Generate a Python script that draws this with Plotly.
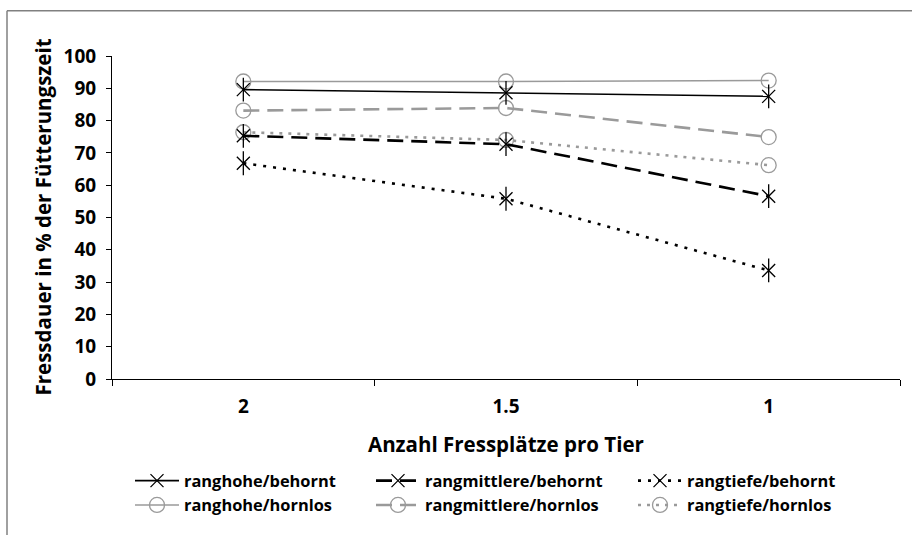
import plotly.graph_objects as go

# ---- data ----
categories = ["2", "1.5", "1"]
series_names = [
    "ranghohe/behornt", "rangmittlere/behornt", "rangtiefe/behornt",
    "ranghohe/hornlos", "rangmittlere/hornlos", "rangtiefe/hornlos",
]
ranghohe_behornt = [89.6, 88.6, 87.5]
rangmittlere_behornt = [75.3, 72.7, 56.6]
rangtiefe_behornt = [66.8, 55.8, 33.6]
ranghohe_hornlos = [92.1, 92.1, 92.4]
rangmittlere_hornlos = [83.1, 83.9, 74.9]
rangtiefe_hornlos = [76.4, 74.0, 66.2]
y_ticks = [0, 10, 20, 30, 40, 50, 60, 70, 80, 90, 100]

values = [ranghohe_behornt, rangmittlere_behornt, rangtiefe_behornt,
          ranghohe_hornlos, rangmittlere_hornlos, rangtiefe_hornlos]

BLACK = "#000000"
GRAY = "#9a9a9a"
FONT = "Open Sans"

styles = [
    dict(color=BLACK, width=1.6, dash="solid", star=True, legend="legend"),
    dict(color=BLACK, width=2.6, dash="16px,8px", star=True, legend="legend2"),
    dict(color=BLACK, width=2.6, dash="3px,7px", star=True, legend="legend3"),
    dict(color=GRAY, width=1.6, dash="solid", star=False, legend="legend"),
    dict(color=GRAY, width=2.6, dash="16px,8px", star=False, legend="legend2"),
    dict(color=GRAY, width=2.6, dash="3px,6px", star=False, legend="legend3"),
]

# plot area geometry (pixels)
W, H = 912, 535
L, R, T, B = 112, 12, 56, 154
PW, PH = W - L - R, H - T - B


def px_x(x):
    return (x - L) / PW


def px_y(y):
    return (H - B - y) / PH


fig = go.Figure()

# draw hornlos (gray) first, then behornt (black) on top
order = [3, 4, 5, 0, 1, 2]
for i in order:
    s = styles[i]
    if s["star"]:
        marker = dict(symbol="x-thin-open", size=13,
                      line=dict(color=s["color"], width=1.3), color=s["color"])
    else:
        marker = dict(symbol="circle-open", size=15,
                      line=dict(color=s["color"], width=1.3), color=s["color"])
    fig.add_trace(go.Scatter(
        x=categories, y=values[i], name=series_names[i], mode="lines+markers",
        line=dict(color=s["color"], width=s["width"], dash=s["dash"]),
        marker=marker, legend=s["legend"], legendrank=i,
    ))
    if s["star"]:
        fig.add_trace(go.Scatter(
            x=categories, y=values[i], mode="markers", showlegend=False,
            hoverinfo="skip",
            marker=dict(symbol="line-ns-open", size=17, color=s["color"],
                        line=dict(color=s["color"], width=1.3)),
        ))

legend_common = dict(
    orientation="v", yanchor="top", xanchor="left",
    font=dict(family=FONT, size=16.4, color="#000", weight="bold"),
    bgcolor="rgba(0,0,0,0)", itemwidth=44, tracegroupgap=0,
    traceorder="normal", itemclick=False,
)
leg_y = px_y(466)

frame_line = dict(color="#808080", width=1.5)

fig.update_layout(
    width=W, height=H,
    margin=dict(l=L, r=R, t=T, b=B, pad=0),
    paper_bgcolor="white", plot_bgcolor="white",
    font=dict(family=FONT, color="#000"),
    showlegend=True,
    legend=dict(x=px_x(130), y=leg_y, **legend_common),
    legend2=dict(x=px_x(371), y=leg_y, **legend_common),
    legend3=dict(x=px_x(633), y=leg_y, **legend_common),
    xaxis=dict(
        type="category", categoryorder="array", categoryarray=categories,
        range=[-0.5, 2.5], tickson="boundaries", ticks="outside", ticklen=6,
        tickcolor="#000", tickwidth=1, showline=True, linecolor="#000",
        linewidth=1, showgrid=False, zeroline=False,
        tickfont=dict(family=FONT, size=19, color="#000", weight="bold"),
        ticklabelstandoff=10,
    ),
    yaxis=dict(
        range=[0, 100], tickmode="array", tickvals=y_ticks,
        ticks="outside", ticklen=5, tickcolor="#000", tickwidth=1,
        showline=True, linecolor="#000", linewidth=1, showgrid=False,
        zeroline=False,
        tickfont=dict(family=FONT, size=19, color="#000", weight="bold"),
        ticklabelstandoff=6,
    ),
    annotations=[
        dict(text="Anzahl Fressplätze pro Tier", xref="paper", yref="paper",
             x=0.5, y=px_y(446), xanchor="center", yanchor="middle",
             showarrow=False,
             font=dict(family=FONT, size=20.5, color="#000", weight="bold")),
        dict(text="Fressdauer in % der Fütterungszeit", xref="paper",
             yref="paper", x=px_x(42), y=0.5, xanchor="center",
             yanchor="middle", textangle=-90, showarrow=False,
             font=dict(family=FONT, size=20.5, color="#000", weight="bold")),
    ],
    shapes=[
        # outer chart frame: top and left edges (right/bottom lie off-page)
        dict(type="line", xref="paper", yref="paper",
             x0=px_x(7), x1=px_x(1000), y0=px_y(10.5), y1=px_y(10.5),
             line=frame_line, layer="below"),
        dict(type="line", xref="paper", yref="paper",
             x0=px_x(7), x1=px_x(7), y0=px_y(10.5), y1=px_y(600),
             line=frame_line, layer="below"),
    ],
)

fig.write_html("out.html")
